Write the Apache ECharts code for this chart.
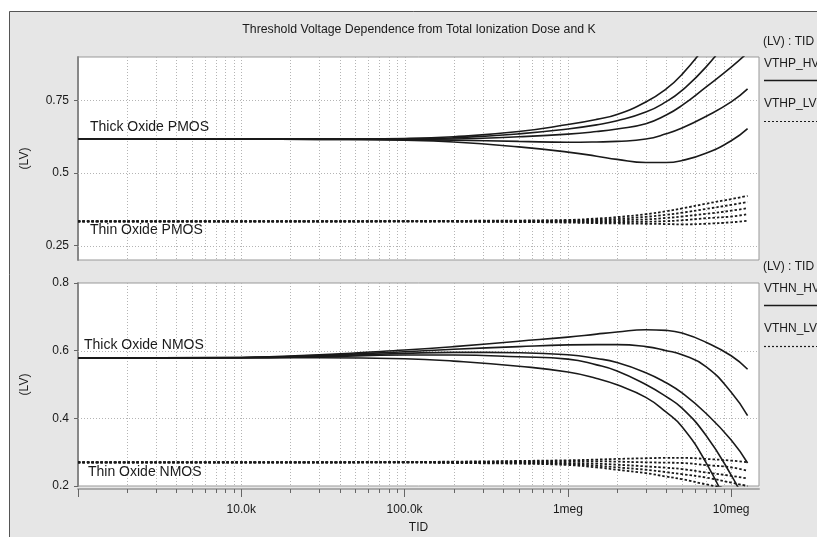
<!DOCTYPE html>
<html>
<head>
<meta charset="utf-8">
<script src="https://cdn.jsdelivr.net/npm/echarts@6/dist/echarts.min.js"></script>
<style>
  html, body { margin: 0; padding: 0; background: #fff; }
  #chart { width: 817px; height: 537px; }
</style>
</head>
<body>
<div id="chart"></div>
<script>
// TID sample points (x) shared by every curve
var tid = [1e3, 1e4, 3e4, 1e5, 2e5, 5e5, 1e6, 1.5e6, 2e6, 3e6, 4e6, 5e6, 7e6, 1e7, 1.26e7];

// VTHP_HV : thick oxide PMOS, one curve per K
var vthpHv = [
  [0.618, 0.617, 0.617, 0.619, 0.625, 0.643, 0.667, 0.685, 0.702, 0.745, 0.790, 0.840, 0.940, 1.060, 1.150],
  [0.618, 0.617, 0.617, 0.617, 0.621, 0.635, 0.652, 0.666, 0.680, 0.710, 0.746, 0.785, 0.865, 0.975, 1.060],
  [0.618, 0.617, 0.617, 0.616, 0.617, 0.625, 0.634, 0.643, 0.652, 0.670, 0.700, 0.733, 0.796, 0.865, 0.915],
  [0.618, 0.617, 0.616, 0.615, 0.613, 0.609, 0.606, 0.607, 0.609, 0.617, 0.635, 0.655, 0.695, 0.745, 0.790],
  [0.618, 0.617, 0.616, 0.613, 0.607, 0.590, 0.572, 0.558, 0.547, 0.536, 0.536, 0.543, 0.568, 0.611, 0.653]
];
// VTHP_LV : thin oxide PMOS
var vthpLv = [
  [0.333, 0.333, 0.333, 0.334, 0.335, 0.336, 0.338, 0.343, 0.348, 0.358, 0.368, 0.378, 0.394, 0.410, 0.421],
  [0.333, 0.333, 0.333, 0.334, 0.334, 0.335, 0.336, 0.339, 0.342, 0.349, 0.356, 0.363, 0.376, 0.390, 0.400],
  [0.333, 0.333, 0.333, 0.333, 0.334, 0.334, 0.334, 0.335, 0.337, 0.340, 0.345, 0.350, 0.359, 0.370, 0.379],
  [0.333, 0.333, 0.333, 0.333, 0.333, 0.332, 0.331, 0.331, 0.331, 0.332, 0.334, 0.337, 0.344, 0.350, 0.358],
  [0.333, 0.333, 0.333, 0.333, 0.332, 0.331, 0.329, 0.327, 0.326, 0.325, 0.324, 0.323, 0.325, 0.330, 0.335]
];
// VTHN_HV : thick oxide NMOS
var vthnHv = [
  [0.578, 0.580, 0.588, 0.602, 0.612, 0.628, 0.640, 0.649, 0.655, 0.662, 0.660, 0.652, 0.625, 0.585, 0.545],
  [0.578, 0.580, 0.586, 0.597, 0.604, 0.612, 0.617, 0.618, 0.618, 0.612, 0.600, 0.588, 0.553, 0.477, 0.408],
  [0.578, 0.579, 0.584, 0.592, 0.595, 0.594, 0.588, 0.577, 0.565, 0.535, 0.505, 0.475, 0.415, 0.336, 0.268],
  [0.578, 0.579, 0.582, 0.587, 0.587, 0.582, 0.575, 0.558, 0.540, 0.500, 0.464, 0.430, 0.350, 0.232, 0.140],
  [0.578, 0.579, 0.579, 0.576, 0.569, 0.554, 0.537, 0.518, 0.499, 0.462, 0.418, 0.375, 0.270, 0.120, 0.000]
];
// VTHN_LV : thin oxide NMOS
var vthnLv = [
  [0.270, 0.270, 0.270, 0.271, 0.272, 0.274, 0.276, 0.278, 0.280, 0.282, 0.283, 0.283, 0.280, 0.275, 0.270],
  [0.270, 0.270, 0.270, 0.271, 0.271, 0.272, 0.273, 0.273, 0.272, 0.270, 0.269, 0.268, 0.262, 0.255, 0.245],
  [0.270, 0.270, 0.270, 0.270, 0.270, 0.270, 0.268, 0.266, 0.263, 0.258, 0.254, 0.250, 0.240, 0.230, 0.222],
  [0.270, 0.270, 0.270, 0.270, 0.269, 0.268, 0.265, 0.260, 0.255, 0.248, 0.241, 0.235, 0.225, 0.210, 0.200],
  [0.270, 0.270, 0.270, 0.270, 0.268, 0.266, 0.262, 0.255, 0.248, 0.238, 0.228, 0.220, 0.205, 0.190, 0.180]
];

// axis ticks
var xMajor = [1e4, 1e5, 1e6, 1e7];
var xMajorLabels = ['10.0k', '100.0k', '1meg', '10meg'];
var xMinor = [2e3, 3e3, 4e3, 5e3, 6e3, 7e3, 8e3, 9e3,
              2e4, 3e4, 4e4, 5e4, 6e4, 7e4, 8e4, 9e4,
              2e5, 3e5, 4e5, 5e5, 6e5, 7e5, 8e5, 9e5,
              2e6, 3e6, 4e6, 5e6, 6e6, 7e6, 8e6, 9e6];
var yTopTicks = [0.25, 0.5, 0.75];
var yBotGrid = [0.4, 0.6];

var FONT = 'Liberation Sans, Arial, sans-serif';
var INK = '#1a1a1a';
var GRIDC = '#b4b4b4';

var myChart = echarts.init(document.getElementById('chart'));

function pairs(vals) {
  return tid.map(function (x, i) { return [x, vals[i]]; });
}

function curveSeries(list, idx, dotted) {
  return list.map(function (vals) {
    return {
      type: 'line',
      xAxisIndex: idx,
      yAxisIndex: idx,
      data: pairs(vals),
      smooth: 0.5,
      symbol: 'none',
      silent: true,
      z: 5,
      lineStyle: { color: INK, width: dotted ? 1.8 : 1.6, type: dotted ? [2.5, 2] : 'solid' }
    };
  });
}

// dotted grid lines, placed through the axes scales
function vGrid(params, api) {
  var cs = params.coordSys;
  var x = Math.round(api.coord([api.value(0), api.value(1)])[0]) + 0.5;
  return {
    type: 'line',
    shape: { x1: x, y1: cs.y, x2: x, y2: cs.y + cs.height },
    style: { stroke: GRIDC, lineWidth: 1, lineDash: [1, 2] }
  };
}
function hGrid(params, api) {
  var cs = params.coordSys;
  var y = Math.round(api.coord([api.value(0), api.value(1)])[1]) + 0.5;
  return {
    type: 'line',
    shape: { x1: cs.x, y1: y, x2: cs.x + cs.width, y2: y },
    style: { stroke: GRIDC, lineWidth: 1, lineDash: [1, 2] }
  };
}
function minorTick(params, api) {
  var cs = params.coordSys;
  var x = Math.round(api.coord([api.value(0), api.value(1)])[0]) + 0.5;
  var y0 = cs.y + cs.height + 3;
  return {
    type: 'line',
    shape: { x1: x, y1: y0, x2: x, y2: y0 + 4 },
    style: { stroke: '#666', lineWidth: 1 }
  };
}

var allV = xMinor.concat(xMajor);
var series = [];
series.push({ type: 'custom', xAxisIndex: 0, yAxisIndex: 0, silent: true, z: 1,
  renderItem: vGrid, data: allV.map(function (v) { return [v, 0.5]; }) });
series.push({ type: 'custom', xAxisIndex: 1, yAxisIndex: 1, silent: true, z: 1,
  renderItem: vGrid, data: allV.map(function (v) { return [v, 0.5]; }) });
series.push({ type: 'custom', xAxisIndex: 0, yAxisIndex: 0, silent: true, z: 1,
  renderItem: hGrid, data: yTopTicks.map(function (v) { return [1e5, v]; }) });
series.push({ type: 'custom', xAxisIndex: 1, yAxisIndex: 1, silent: true, z: 1,
  renderItem: hGrid, data: yBotGrid.map(function (v) { return [1e5, v]; }) });
series.push({ type: 'custom', xAxisIndex: 1, yAxisIndex: 1, silent: true, z: 1, clip: false,
  renderItem: minorTick, data: xMinor.map(function (v) { return [v, 0.5]; }) });
series = series.concat(curveSeries(vthpHv, 0, false), curveSeries(vthpLv, 0, true),
                       curveSeries(vthnHv, 1, false), curveSeries(vthnLv, 1, true));

function xLabel(v) {
  for (var i = 0; i < xMajor.length; i++) {
    if (Math.abs(v - xMajor[i]) / xMajor[i] < 1e-6) return xMajorLabels[i];
  }
  return '';
}

function legendBlock(top, title, hv, lv) {
  var t = { fill: INK, font: '12px ' + FONT };
  return [
    { type: 'text', left: 763, top: top - 7, style: Object.assign({ text: title }, t) },
    { type: 'text', left: 764, top: top + 15, style: Object.assign({ text: hv }, t) },
    { type: 'line', shape: { x1: 764, y1: top + 37.5, x2: 817, y2: top + 37.5 }, style: { stroke: INK, lineWidth: 1.5 } },
    { type: 'text', left: 764, top: top + 55, style: Object.assign({ text: lv }, t) },
    { type: 'line', shape: { x1: 764, y1: top + 78.5, x2: 817, y2: top + 78.5 }, style: { stroke: INK, lineWidth: 1.2, lineDash: [2, 2] } }
  ];
}

function note(x, y, text) {
  return { type: 'text', left: x, top: y, z: 10, style: { text: text, fill: INK, font: '14px ' + FONT } };
}

var graphics = [
  { type: 'rect', shape: { x: 0, y: 0, width: 817, height: 11 }, style: { fill: '#fff' }, z: -1 },
  { type: 'rect', shape: { x: 0, y: 0, width: 9, height: 537 }, style: { fill: '#fff' }, z: -1 },
  { type: 'line', shape: { x1: 9.5, y1: 11.5, x2: 817, y2: 11.5 }, style: { stroke: '#555', lineWidth: 1 } },
  { type: 'line', shape: { x1: 9.5, y1: 11.5, x2: 9.5, y2: 537 }, style: { stroke: '#555', lineWidth: 1 } },
  note(90, 120, 'Thick Oxide PMOS'),
  note(90, 223, 'Thin Oxide PMOS'),
  note(84, 338, 'Thick Oxide NMOS'),
  note(88, 465, 'Thin Oxide NMOS')
].concat(legendBlock(43, '(LV) : TID', 'VTHP_HV', 'VTHP_LV'),
         legendBlock(268, '(LV) : TID', 'VTHN_HV', 'VTHN_LV'));

var axisText = { color: INK, fontFamily: FONT, fontSize: 12 };

myChart.setOption({
  backgroundColor: '#e6e6e6',
  animation: false,
  title: {
    text: 'Threshold Voltage Dependence from Total Ionization Dose and K',
    left: 414, top: 19, textAlign: 'center',
    textStyle: { color: INK, fontFamily: FONT, fontSize: 12.3, fontWeight: 'normal' }
  },
  grid: [
    { left: 78, top: 57, width: 681, height: 203, show: true, backgroundColor: '#fff', borderColor: '#999', borderWidth: 1 },
    { left: 78, top: 283, width: 681, height: 203, show: true, backgroundColor: '#fff', borderColor: '#999', borderWidth: 1 }
  ],
  xAxis: [
    { type: 'log', gridIndex: 0, min: 1e3, max: 1.48e7, logBase: 10,
      axisLine: { show: false }, axisTick: { show: false }, axisLabel: { show: false }, splitLine: { show: false } },
    { type: 'log', gridIndex: 1, min: 1e3, max: 1.48e7, logBase: 10, offset: 3,
      name: 'TID', nameLocation: 'middle', nameGap: 33, nameTextStyle: axisText,
      axisLine: { show: true, lineStyle: { color: '#aaa', width: 2 } },
      axisTick: { show: true, length: 8, lineStyle: { color: '#666' } },
      axisLabel: Object.assign({ margin: 15, formatter: xLabel, showMinLabel: false, showMaxLabel: false }, axisText),
      splitLine: { show: false } }
  ],
  yAxis: [
    { type: 'value', gridIndex: 0, min: 0.2, max: 0.9,
      name: '(LV)', nameLocation: 'middle', nameGap: 47, nameTextStyle: axisText,
      axisLine: { show: true, lineStyle: { color: '#888', width: 2 } },
      axisTick: { show: true, length: 4, customValues: yTopTicks, lineStyle: { color: '#666' } },
      axisLabel: Object.assign({ margin: 9, customValues: yTopTicks, formatter: function (v) { return String(v); } }, axisText),
      splitLine: { show: false } },
    { type: 'value', gridIndex: 1, min: 0.2, max: 0.8, interval: 0.2,
      name: '(LV)', nameLocation: 'middle', nameGap: 47, nameTextStyle: axisText,
      axisLine: { show: true, lineStyle: { color: '#888', width: 2 } },
      axisTick: { show: true, length: 4, lineStyle: { color: '#666' } },
      axisLabel: Object.assign({ margin: 9, formatter: function (v) { return String(Math.round(v * 10) / 10); } }, axisText),
      splitLine: { show: false } }
  ],
  graphic: graphics,
  series: series
});

window.onresize = function () {
  myChart.resize();
};
</script>
</body>
</html>
